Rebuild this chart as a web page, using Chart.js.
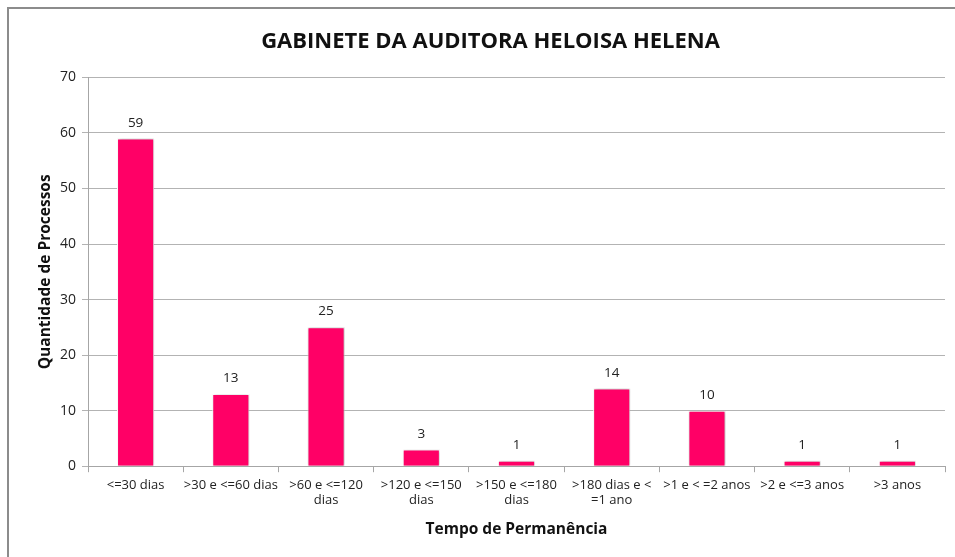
<!DOCTYPE html>
<html>
<head>
<meta charset="utf-8">
<script src="https://cdn.jsdelivr.net/npm/chart.js@4/dist/chart.umd.min.js"></script>
<style>
html,body{margin:0;padding:0;background:#fff;overflow:hidden;}
#wrap{position:relative;width:955px;height:557px;}
#frame{position:absolute;left:7px;top:7px;width:960px;height:560px;border-top:2px solid #8c8c8c;border-left:2px solid #8c8c8c;pointer-events:none;}
canvas{position:absolute;left:0;top:0;}
</style>
</head>
<body>
<div id="wrap">
<canvas id="c" width="955" height="557"></canvas>
<div id="frame"></div>
</div>
<script>
const titleText = "GABINETE DA AUDITORA HELOISA HELENA";
const categories = [
  "<=30 dias",
  ">30 e <=60 dias",
  [">60 e <=120", "dias"],
  [">120 e <=150", "dias"],
  [">150 e <=180", "dias"],
  [">180 dias e <", "=1 ano"],
  ">1 e < =2 anos",
  ">2 e <=3 anos",
  ">3 anos"
];
const values = [59, 13, 25, 3, 1, 14, 10, 1, 1];
const yTitle = "Quantidade de Processos";
const xTitle = "Tempo de Permanência";
const yMin = 0, yMax = 70, yStep = 10;

const FONT = "'Open Sans', 'Liberation Sans', sans-serif";

const valueLabels = {
  id: 'valueLabels',
  afterDatasetsDraw(chart) {
    const ctx = chart.ctx;
    const meta = chart.getDatasetMeta(0);
    ctx.save();
    ctx.font = "13.5px " + FONT;
    ctx.fillStyle = "#222";
    ctx.textAlign = "center";
    ctx.textBaseline = "bottom";
    meta.data.forEach((bar, i) => {
      ctx.fillText(String(values[i]), bar.x, bar.y - 9);
    });
    ctx.restore();
  }
};

const barShadow = {
  id: 'barShadow',
  beforeDatasetDraw(chart) {
    const ctx = chart.ctx;
    ctx.save();
    ctx.shadowColor = 'rgba(0,0,0,0.28)';
    ctx.shadowBlur = 3;
    ctx.shadowOffsetX = 1;
    ctx.shadowOffsetY = 0;
  },
  afterDatasetDraw(chart) {
    chart.ctx.restore();
  }
};

new Chart(document.getElementById('c'), {
  type: 'bar',
  data: {
    labels: categories,
    datasets: [{
      data: values,
      backgroundColor: '#ff0066',
      borderColor: '#ffffff',
      borderWidth: 1,
      categoryPercentage: 1.0,
      barPercentage: 0.39
    }]
  },
  options: {
    responsive: false,
    animation: false,
    devicePixelRatio: 1,
    layout: { padding: { left: 36, right: 10, top: 29, bottom: 18 } },
    plugins: {
      legend: { display: false },
      tooltip: { enabled: false },
      title: {
        display: true,
        text: titleText,
        color: '#111',
        font: { family: FONT, size: 22, weight: 'bold' },
        padding: { top: 0, bottom: 22 }
      }
    },
    scales: {
      x: {
        grid: {
          offset: true,
          drawOnChartArea: false,
          drawTicks: true,
          tickLength: 6,
          color: '#a6a6a6'
        },
        border: { color: '#a6a6a6', width: 1 },
        ticks: {
          color: '#222',
          font: { family: FONT, size: 13 },
          maxRotation: 0,
          autoSkip: false,
          padding: 5
        },
        title: {
          display: true,
          text: xTitle,
          color: '#111',
          font: { family: FONT, size: 15.5, weight: 'bold' },
          padding: { top: 7, bottom: 0 }
        }
      },
      y: {
        min: yMin,
        max: yMax,
        ticks: {
          stepSize: yStep,
          color: '#222',
          font: { family: FONT, size: 14 },
          padding: 6
        },
        grid: {
          color: '#b3b3b3',
          tickLength: 6
        },
        border: { color: '#a6a6a6', width: 1 },
        title: {
          display: true,
          text: yTitle,
          color: '#111',
          font: { family: FONT, size: 15.5, weight: 'bold' },
          padding: { top: 0, bottom: 8 }
        },
        afterFit(scale) { scale.width = 52; }
      }
    }
  },
  plugins: [barShadow, valueLabels]
});
</script>
</body>
</html>
